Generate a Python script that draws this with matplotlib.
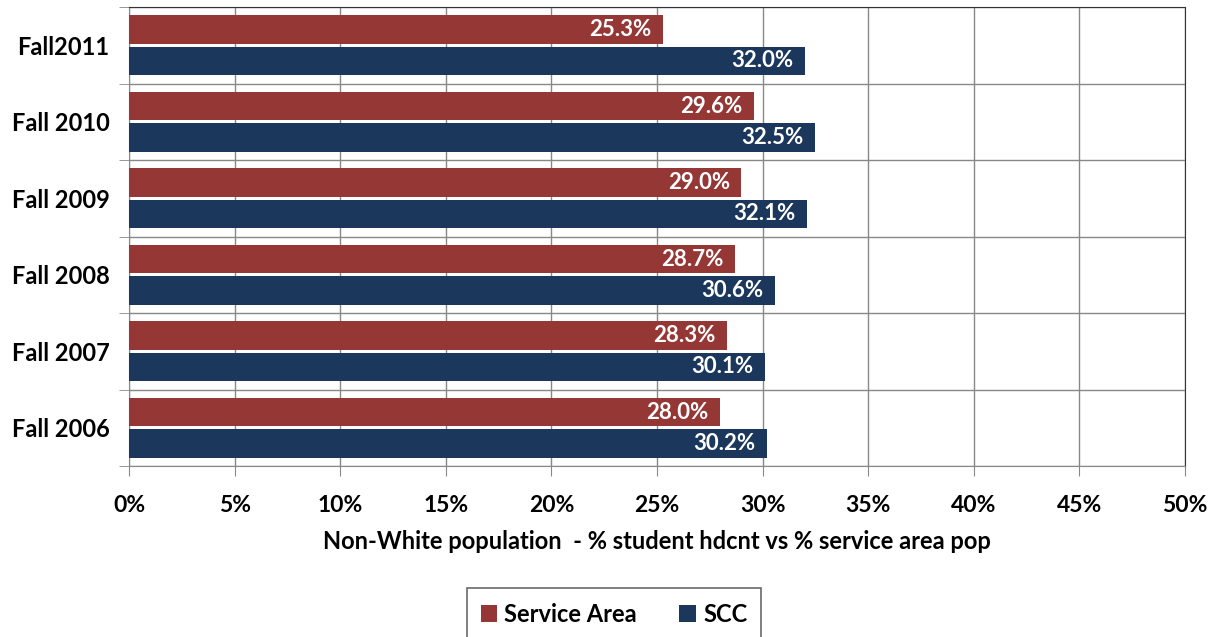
import numpy as np
import matplotlib.pyplot as plt
from matplotlib.ticker import FixedLocator

# data (top to bottom)
terms = ["Fall2011", "Fall 2010", "Fall 2009", "Fall 2008", "Fall 2007", "Fall 2006"]
service_area = [25.3, 29.6, 29.0, 28.7, 28.3, 28.0]
scc = [32.0, 32.5, 32.1, 30.6, 30.1, 30.2]
x_ticks = [0, 5, 10, 15, 20, 25, 30, 35, 40, 45, 50]

RED = "#953735"
BLUE = "#1B375C"

plt.rcParams['font.family'] = ['Lato', 'DejaVu Sans']
plt.rcParams['font.weight'] = 'bold'

fig = plt.figure(figsize=(12.19, 6.37), dpi=100)
ax = fig.add_axes([129 / 1219, 1 - 466 / 637, (1185 - 129) / 1219, (466 - 7) / 637])

n = len(terms)
y = np.arange(n)[::-1]
h = 0.37
gap = 0.02

bars_sa = ax.barh(y + h / 2 + gap, service_area, height=h, color=RED, label="Service Area", zorder=3)
bars_scc = ax.barh(y - h / 2 - gap, scc, height=h, color=BLUE, label="SCC", zorder=3)

for bars, vals in ((bars_sa, service_area), (bars_scc, scc)):
    for b, v in zip(bars, vals):
        ax.text(v - 0.55, b.get_y() + b.get_height() / 2, f"{v:.1f}%",
                ha="right", va="center", color="white", fontsize=16,
                fontweight="bold", zorder=4)

ax.set_xlim(0, 50)
ax.set_ylim(-0.5, n - 0.5)
ax.set_xticks(x_ticks)
ax.set_xticklabels([f"{t}%" for t in x_ticks], fontsize=16.5)
ax.set_yticks(y)
ax.set_yticklabels(terms, fontsize=17)
ax.yaxis.set_minor_locator(FixedLocator(np.arange(-0.5, n, 1.0)))
ax.tick_params(axis="y", which="major", length=0, pad=14)
ax.tick_params(axis="y", which="minor", length=7, color="#888888")
ax.tick_params(axis="x", length=7, color="#888888", pad=14)

ax.grid(axis="x", which="major", color="#888888", linewidth=1, zorder=0)
ax.grid(axis="y", which="minor", color="#888888", linewidth=1, zorder=0)
for s in ax.spines.values():
    s.set_color("#888888")
ax.spines["top"].set_color("#333333")
ax.spines["right"].set_color("#333333")

ax.set_xlabel("Non-White population  - % student hdcnt vs % service area pop",
              fontsize=17, fontweight="bold", labelpad=10)

leg = fig.legend(loc="center", bbox_to_anchor=(614 / 1219, 1 - 614 / 637),
                 ncol=2, fontsize=17, frameon=True, fancybox=False,
                 handlelength=0.7, handleheight=0.7, columnspacing=1.8,
                 borderpad=0.6, handletextpad=0.3)
leg.get_frame().set_edgecolor("#444444")
leg.get_frame().set_linewidth(1.2)

fig.savefig("out.png", dpi=100)
